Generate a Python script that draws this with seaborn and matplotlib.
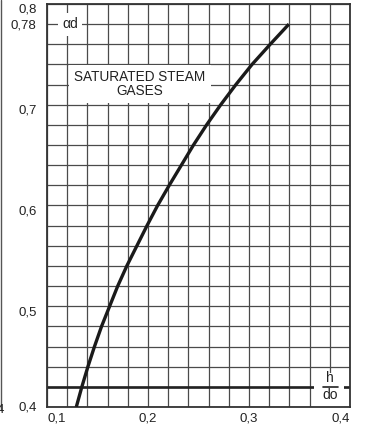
import numpy as np
import pandas as pd
import seaborn as sns
import matplotlib.pyplot as plt
from matplotlib.lines import Line2D
from matplotlib.patches import Rectangle

# curve (h/do -> alpha*d)
h_do = [0.129, 0.1345, 0.1405, 0.147, 0.154, 0.162, 0.170, 0.179, 0.189, 0.199,
        0.2095, 0.221, 0.233, 0.245, 0.258, 0.272, 0.287, 0.303, 0.321, 0.3395]
alpha_d = [0.40, 0.42, 0.44, 0.46, 0.48, 0.50, 0.52, 0.54, 0.56, 0.58,
           0.60, 0.62, 0.64, 0.66, 0.68, 0.70, 0.72, 0.74, 0.76, 0.78]

x_ticks = [0.1, 0.2, 0.3, 0.4]
x_labels = ["0,1", "0,2", "0,3", "0,4"]
y_ticks = [0.4, 0.5, 0.6, 0.7, 0.8]
y_labels = ["0,4", "0,5", "0,6", "0,7", "0,8"]
y_extra = 0.78
y_extra_label = "0,78"
box_label = "SATURATED STEAM\nGASES"

df = pd.DataFrame({"h_do": h_do, "alpha_d": alpha_d})

sns.set_style("white")
plt.rcParams["font.family"] = ["Liberation Sans", "DejaVu Sans"]

fig = plt.figure(figsize=(3.65, 4.28), dpi=100)
ax = fig.add_axes([47 / 365, 21 / 428, 303 / 365, 403 / 428])

# grid every 0.02
for v in np.arange(0.1, 0.4001, 0.02):
    ax.axvline(v, color="#4a4a4a", lw=0.9, zorder=1)
for v in np.arange(0.4, 0.8001, 0.02):
    ax.axhline(v, color="#4a4a4a", lw=0.9, zorder=1)
ax.axhline(0.42, color="#222222", lw=1.9, zorder=1.5)

sns.lineplot(data=df, x="h_do", y="alpha_d", sort=False, estimator=None,
             color="#1a1a1a", lw=2.4, ax=ax, zorder=4, solid_capstyle="butt")

ax.set_xlim(0.1, 0.4)
ax.set_ylim(0.4, 0.8)
ax.set_xlabel("")
ax.set_ylabel("")

ax.set_xticks(x_ticks, x_labels)
ax.set_yticks(y_ticks, y_labels)
ax.set_yticks([y_extra], [y_extra_label], minor=True)
ax.tick_params(axis="x", length=0, pad=4, labelsize=9.5, colors="#222222")
ax.tick_params(axis="y", which="major", length=0, pad=7, labelsize=9.5, colors="#222222")
ax.tick_params(axis="y", which="minor", length=7, width=0.9, pad=1, labelsize=9.5,
               color="#333333", labelcolor="#222222")
for lab, ha in zip(ax.get_xticklabels(), ["left", "center", "center", "right"]):
    lab.set_ha(ha)
for lab, va in zip(ax.get_yticklabels(), ["center", "top", "top", "top", "top"]):
    lab.set_va(va)

for s in ax.spines.values():
    s.set_visible(True)
    s.set_color("#333333")
    s.set_linewidth(1.3)

# labels on white patches
ax.text(0.1228, 0.78, "αd", ha="center", va="center", fontsize=10, color="#222222",
        zorder=3, bbox=dict(fc="white", ec="none", pad=3.3))
ax.text(0.192, 0.7205, box_label, ha="center", va="center", fontsize=9.8,
        color="#222222", linespacing=0.95, zorder=3,
        bbox=dict(fc="white", ec="none", pad=4))

ax.add_patch(Rectangle((0.3642, 0.4), 0.0298, 0.034, fc="white", ec="none", zorder=2))
ax.plot([0.373, 0.388], [0.42, 0.42], color="#222222", lw=1.2, zorder=3)
ax.text(0.3805, 0.4215, "h", ha="center", va="bottom", fontsize=10, color="#222222", zorder=3)
ax.text(0.3805, 0.4185, "do", ha="center", va="top", fontsize=10, color="#222222", zorder=3)

# edge of the neighbouring chart
fig.add_artist(Line2D([1.5 / 365, 1.5 / 365], [18 / 428, 1], color="#555555", lw=1))
fig.text(5 / 365, 19 / 428, "0,4", ha="right", va="center", fontsize=9.5, color="#222222")

fig.savefig("out.png", dpi=100)
